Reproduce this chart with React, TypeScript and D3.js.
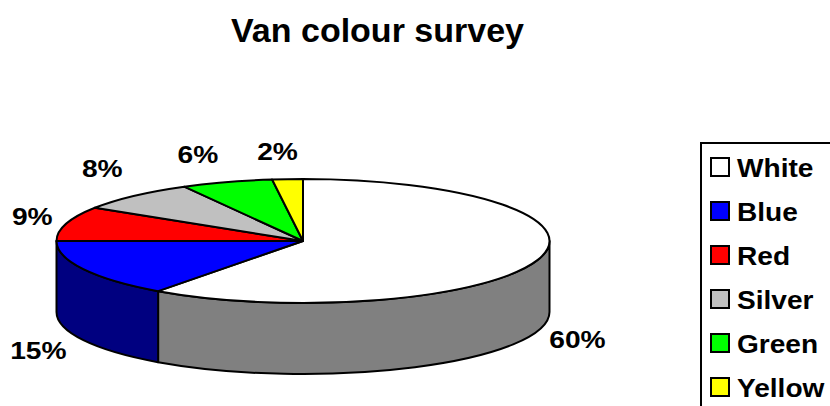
import React from "react";
import * as d3 from "d3";

const categories = ["White", "Blue", "Red", "Silver", "Green", "Yellow"];
const shares = [60, 15, 9, 8, 6, 2];
const colours = ["#FFFFFF", "#0000FF", "#FF0000", "#C0C0C0", "#00FF00", "#FFFF00"];
const title = "Van colour survey";

// label offsets (layout only) relative to the slice's rim anchor
const labelOffsets: [number, number][] = [
  [40, 8],
  [-45, 10],
  [-34, -7],
  [-32, -27],
  [-29, -27.5],
  [-10, -28],
];

const W = 830;
const H = 406;
const cx = 303;
const cy = 241;
const rx = 246.5;
const ry = 62;
const depth = 71;

const font = "'Liberation Sans', Arial, sans-serif";

function pt(a: number, dy = 0): [number, number] {
  return [cx + rx * Math.sin(a), cy - ry * Math.cos(a) + dy];
}

export default function App() {
  const pie = d3.pie<number>().sort(null).value((d) => d);
  const arcs = pie(shares);

  const topPath = (s: number, e: number) => {
    const p0 = pt(s);
    const p1 = pt(e);
    const large = e - s > Math.PI ? 1 : 0;
    return `M${cx},${cy}L${p0[0]},${p0[1]}A${rx},${ry} 0 ${large} 1 ${p1[0]},${p1[1]}Z`;
  };

  const sidePath = (s: number, e: number) => {
    const a = Math.max(s, Math.PI / 2);
    const b = Math.min(e, (3 * Math.PI) / 2);
    if (a >= b) return null;
    const t0 = pt(a);
    const t1 = pt(b);
    const b1 = pt(b, depth);
    const b0 = pt(a, depth);
    return `M${t0[0]},${t0[1]}A${rx},${ry} 0 0 1 ${t1[0]},${t1[1]}L${b1[0]},${b1[1]}A${rx},${ry} 0 0 0 ${b0[0]},${b0[1]}Z`;
  };

  const shade = (c: string) => {
    const r = d3.rgb(c);
    return d3.rgb(r.r * 0.5, r.g * 0.5, r.b * 0.5).formatHex();
  };

  const legendY = d3.scalePoint<string>().domain(categories).range([167, 387]);

  return (
    <svg
      width={W}
      height={H}
      style={{ position: "absolute", left: 0, top: 0, background: "#fff" }}
    >
      <text
        x={377.5}
        y={42}
        textAnchor="middle"
        fontFamily={font}
        fontWeight="bold"
        fontSize={34}
      >
        {title}
      </text>

      {arcs.map((a, i) => {
        const d = sidePath(a.startAngle, a.endAngle);
        return d ? (
          <path
            key={"s" + i}
            d={d}
            fill={shade(colours[i])}
            stroke="#000"
            strokeWidth={2}
            strokeLinejoin="round"
          />
        ) : null;
      })}

      {arcs.map((a, i) => (
        <path
          key={"t" + i}
          d={topPath(a.startAngle, a.endAngle)}
          fill={colours[i]}
          stroke="#000"
          strokeWidth={2}
          strokeLinejoin="round"
        />
      ))}

      {arcs.map((a, i) => {
        const mid = (a.startAngle + a.endAngle) / 2;
        const front = mid > Math.PI / 2 && mid < (3 * Math.PI) / 2;
        const anchor = pt(mid, front ? depth : 0);
        const x = anchor[0] + labelOffsets[i][0];
        const y = anchor[1] + labelOffsets[i][1] + 8.5;
        return (
          <text
            key={"l" + i}
            transform={`translate(${x},${y}) scale(1.15,1)`}
            textAnchor="middle"
            fontFamily={font}
            fontWeight="bold"
            fontSize={24.5}
          >
            {shares[i] + "%"}
          </text>
        );
      })}

      <rect
        x={701}
        y={143}
        width={140}
        height={280}
        fill="#fff"
        stroke="#000"
        strokeWidth={2}
      />
      {categories.map((c, i) => {
        const y = legendY(c) as number;
        return (
          <g key={"g" + i}>
            <rect
              x={711}
              y={y - 9}
              width={18}
              height={18}
              fill={colours[i]}
              stroke="#000"
              strokeWidth={2}
            />
            <text
              transform={`translate(737,${y + 9.5}) scale(1.08,1)`}
              fontFamily={font}
              fontWeight="bold"
              fontSize={26}
            >
              {c}
            </text>
          </g>
        );
      })}
    </svg>
  );
}
